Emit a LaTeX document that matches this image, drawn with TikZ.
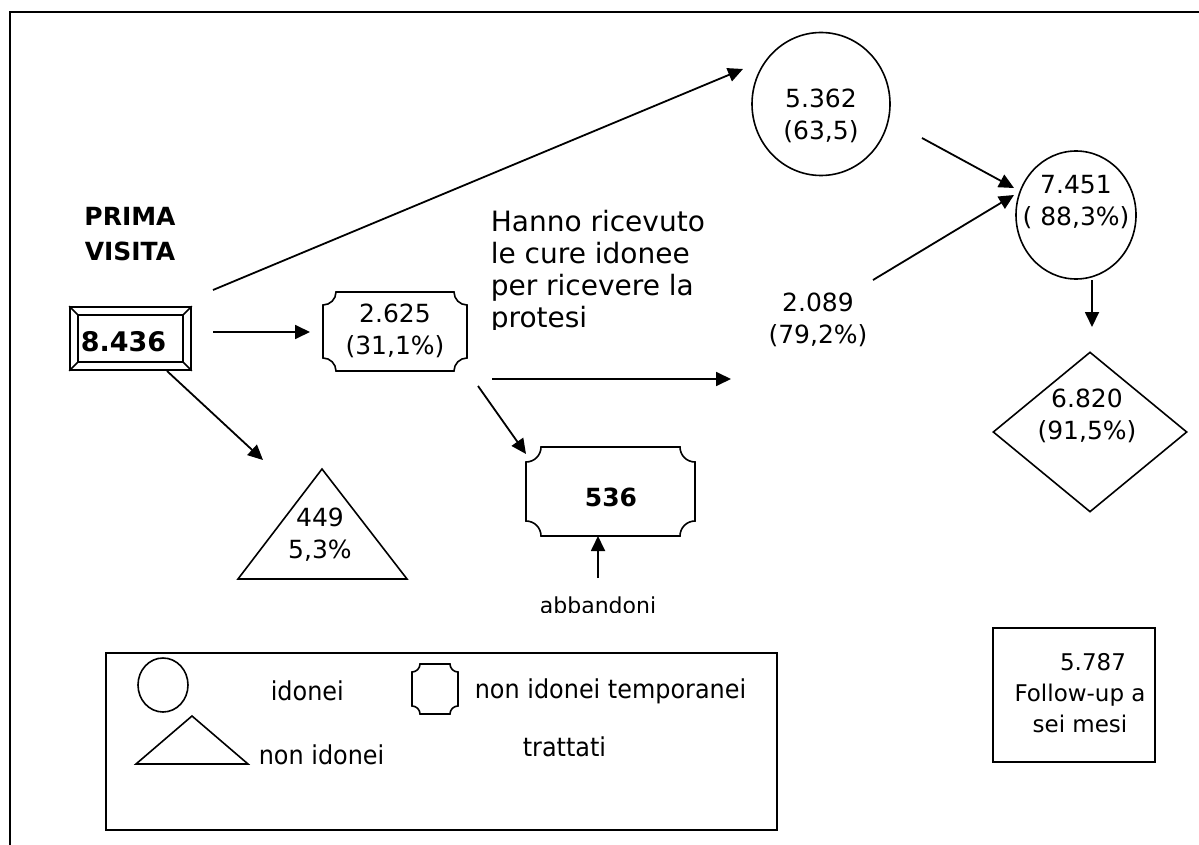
\documentclass[tikz,border=0pt]{standalone}
\usepackage{fontspec}
\setmainfont{DejaVu Sans}
\newfontfamily\narrowfont[FakeStretch=0.92]{DejaVu Sans}
\usetikzlibrary{arrows.meta,shapes.geometric,calc}
\newcommand\plaqueshape[5]{%
  \draw ({#1+#5},{#2}) -- ({#3-#5},{#2})
    .. controls ({#3-#5},{#2+0.552*#5}) and ({#3-0.552*#5},{#2+#5}) .. ({#3},{#2+#5})
    -- ({#3},{#4-#5})
    .. controls ({#3-0.552*#5},{#4-#5}) and ({#3-#5},{#4-0.552*#5}) .. ({#3-#5},{#4})
    -- ({#1+#5},{#4})
    .. controls ({#1+#5},{#4-0.552*#5}) and ({#1+0.552*#5},{#4-#5}) .. ({#1},{#4-#5})
    -- ({#1},{#2+#5})
    .. controls ({#1+0.552*#5},{#2+#5}) and ({#1+#5},{#2+0.552*#5}) .. cycle;}
\tikzset{
  arr/.style={-{Triangle[length=15pt,width=14pt]}, line width=1.8pt},
  num/.style={font=\fontsize{25}{32}\selectfont, align=center, inner sep=0pt},
  lgtext/.style={font=\narrowfont\fontsize{26}{30}\selectfont, inner sep=0pt, anchor=west},
  shp/.style={draw, line width=1.6pt, inner sep=0pt}
}
\begin{document}
\begin{tikzpicture}[x=1pt,y=-1pt,line width=1.6pt]
\useasboundingbox (0,0) rectangle (1199,845);
\fill[white] (0,0) rectangle (1199,845);
% outer frame
\draw[line width=2pt] (10,845) -- (10,12) -- (1199,12);

% PRIMA VISITA
\node[font=\fontsize{25}{35}\selectfont\bfseries, align=center, inner sep=0pt] (title) at (130,234) {PRIMA\\VISITA};

% 8.436 box
\node[shp, minimum width=121pt, minimum height=63pt] (b8436) at (130.5,338.5) {};
\draw (78,315) rectangle (183,362);
\draw (b8436.north west) -- (78,315);
\draw (b8436.north east) -- (183,315);
\draw (b8436.south west) -- (78,362);
\draw (b8436.south east) -- (183,362);
\node[font=\fontsize{27}{30}\selectfont\bfseries, anchor=west, inner sep=0pt] (t8436) at (80,342) {8.436};

% 2.625 plaque
\plaqueshape{323}{292}{467}{371}{13}
\node[num] (n2625) at (395,331) {2.625\\(31,1\%)};

% 536 plaque
\plaqueshape{526}{447}{695}{536}{15}
\node[font=\fontsize{25}{28}\selectfont\bfseries, inner sep=0pt] (n536) at (611,497) {536};

% triangle 449
\draw (322,469) -- (407,579) -- (238,579) -- cycle;
\node[num] (n449) at (320,535) {449\\5,3\%};

% ellipse 5.362
\node[shp, ellipse, minimum width=138pt, minimum height=143pt] (e5362) at (821,104) {};
\node[num] (n5362) at (821,116) {5.362\\(63,5)};

% ellipse 7.451
\node[shp, ellipse, minimum width=120pt, minimum height=128pt] (e7451) at (1076,215) {};
\node[num] (n7451) at (1076,202) {7.451\\( 88,3\%)};

% diamond 6.820
\node[shp, diamond, minimum width=194pt, minimum height=160pt] (d6820) at (1090,432) {};
\node[num] (n6820) at (1087,416) {6.820\\(91,5\%)};

% 2.089
\node[num] (n2089) at (818,320) {2.089\\(79,2\%)};

% Hanno ricevuto text
\begin{scope}
\clip (480,190) rectangle (760,329);
\node[font=\fontsize{28}{32}\selectfont, align=left, anchor=north west, inner sep=0pt] (hanno) at (490,209) {Hanno ricevuto\\le cure idonee\\per ricevere la\\protesi};
\end{scope}

% abbandoni
\begin{scope}
\clip (520,585) rectangle (690,612);
\node[font=\fontsize{22}{26}\selectfont, inner sep=0pt] (abb) at (598,605) {abbandoni};
\end{scope}

% connectors
\coordinate (a1s) at (213,290); \coordinate (a1e) at (743,69);
\coordinate (a2s) at (213,332); \coordinate (a2e) at (310,332);
\coordinate (a3s) at (167,371); \coordinate (a3e) at (263,460);
\coordinate (a4s) at (492,379); \coordinate (a4e) at (731,379);
\coordinate (a5s) at (478,386); \coordinate (a5e) at (526,454);
\coordinate (a6s) at (598,578); \coordinate (a6e) at (598,536);
\coordinate (a7s) at (922,138); \coordinate (a7e) at (1014,188);
\coordinate (a8s) at (873,280); \coordinate (a8e) at (1014,195);
\coordinate (a9s) at (1092,280); \coordinate (a9e) at (1092,327);
\draw[arr] (a1s) -- (a1e);
\draw[arr] (a2s) -- (a2e);
\draw[arr] (a3s) -- (a3e);
\draw[arr] (a4s) -- (a4e);
\draw[arr] (a5s) -- (a5e);
\draw[arr] (a6s) -- (a6e);
\draw[arr] (a7s) -- (a7e);
\draw[arr] (a8s) -- (a8e);
\draw[arr] (a9s) -- (a9e);

% legend
\node[shp, minimum width=671pt, minimum height=177pt] (legend) at (441.5,741.5) {};
\node[shp, ellipse, minimum width=50pt, minimum height=54pt] (lge) at (163,685) {};
\node[lgtext] (lgt1) at (270,691) {idonei};
\plaqueshape{412}{664}{458}{714}{8}
\node[lgtext] (lgt2) at (474,691) {non idonei temporanei};
\draw (192,716) -- (248,764) -- (136,764) -- cycle;
\node[lgtext] (lgt3) at (258,755) {non idonei};
\node[lgtext] (lgt4) at (522,747) {trattati};

% follow-up box
\node[shp, minimum width=162pt, minimum height=134pt] (fu) at (1074,695) {};
\node[font=\fontsize{23}{31}\selectfont, align=center, inner sep=0pt] (nfu) at (1080,693) {\hspace*{26pt}5.787\\Follow-up a\\sei mesi};
\end{tikzpicture}
\end{document}
